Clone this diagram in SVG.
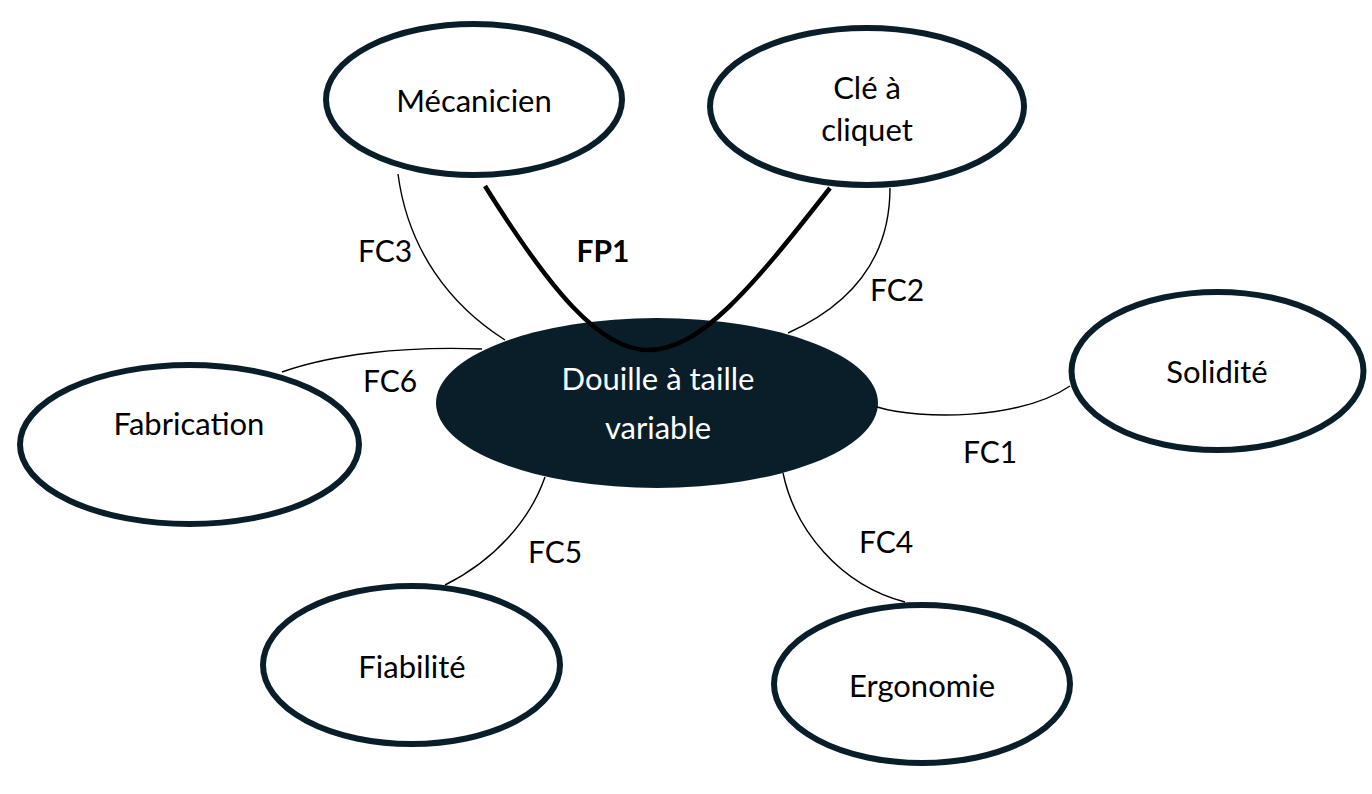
<svg xmlns="http://www.w3.org/2000/svg" width="1372" height="794" viewBox="0 0 1372 794">
<style>
.node{fill:#ffffff;stroke:#0a1e2a;stroke-width:6}
.core{fill:#0a1e2a;stroke:none}
.t{font-family:Lato,"Liberation Sans",sans-serif;font-size:30px;fill:#000;text-anchor:middle}
.n{font-size:31px}
.tw{fill:#ffffff}
.b{font-weight:bold}
.c{fill:none;stroke:#000;stroke-width:1.4}
.fp{fill:none;stroke:#000;stroke-width:4.5}
</style>
<rect width="1372" height="794" fill="#ffffff"/>
<g id="node-mecanicien">
<ellipse class="node" cx="474" cy="99.5" rx="148" ry="75.5"/>
<text class="t n" x="474" y="112">Mécanicien</text>
</g>
<g id="node-cle">
<ellipse class="node" cx="867" cy="106.5" rx="157" ry="78.5"/>
<text class="t n" x="867" y="99">Clé à</text>
<text class="t n" x="867" y="141">cliquet</text>
</g>
<g id="node-solidite">
<ellipse class="node" cx="1217.5" cy="371" rx="146" ry="79"/>
<text class="t n" x="1217" y="383">Solidité</text>
</g>
<g id="node-fabrication">
<ellipse class="node" cx="189.5" cy="444.5" rx="169.5" ry="79.5"/>
<text class="t n" x="189" y="435">Fabrication</text>
</g>
<g id="node-fiabilite">
<ellipse class="node" cx="411.5" cy="665" rx="148.5" ry="79"/>
<text class="t n" x="412" y="678">Fiabilité</text>
</g>
<g id="node-ergonomie">
<ellipse class="node" cx="922" cy="684" rx="148" ry="79"/>
<text class="t n" x="922" y="697">Ergonomie</text>
</g>
<g id="node-douille">
<ellipse class="core" cx="657" cy="403" rx="221" ry="85"/>
<text class="t n tw" x="658" y="390">Douille à taille</text>
<text class="t n tw" x="658" y="439">variable</text>
</g>
<g id="connectors">
<path class="c" d="M398,174 C408,250 450,305 505,340"/>
<path class="c" d="M890,188 C890,260 850,305 788,333"/>
<path class="c" d="M282,372 C330,355 400,346 482,349"/>
<path class="c" d="M877,407 C920,420 1020,420 1070,386"/>
<path class="c" d="M545,477 C530,520 495,560 445,585"/>
<path class="c" d="M783,473 C795,530 840,585 905,602"/>
<path class="fp" d="M485,186 C550,290 600,350 648,350 C700,350 750,290 830,188"/>
<text class="t b" x="603" y="262">FP1</text>
<text class="t" x="385" y="262">FC3</text>
<text class="t" x="897" y="301">FC2</text>
<text class="t" x="390" y="392">FC6</text>
<text class="t" x="990" y="463">FC1</text>
<text class="t" x="555" y="563">FC5</text>
<text class="t" x="886" y="553">FC4</text>
</g>
</svg>
